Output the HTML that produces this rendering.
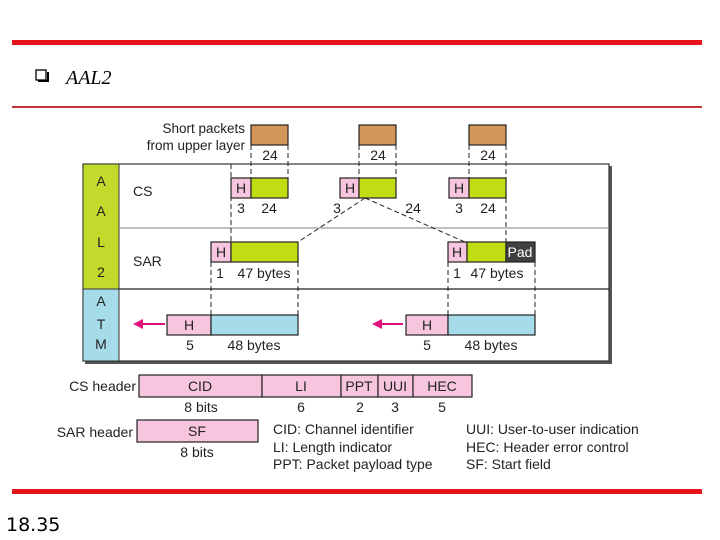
<!DOCTYPE html>
<html><head><meta charset="utf-8"><style>
html,body{margin:0;padding:0;background:#fff;}
svg{display:block;}
</style></head><body>
<svg width="720" height="540" viewBox="0 0 720 540" xmlns="http://www.w3.org/2000/svg" font-family="Liberation Sans, sans-serif">
<rect x="12" y="40" width="690" height="5" fill="#e8141b"/>
<rect x="12" y="106" width="690" height="2" fill="#c4313a"/>
<rect x="12" y="489" width="690" height="5" fill="#e8141b"/>
<rect x="36" y="70" width="10" height="10" fill="#fff" stroke="#000" stroke-width="1.3"/>
<path d="M38 81 H48 V72" stroke="#000" stroke-width="2" fill="none"/>
<text x="66" y="84" style="font-family:'Liberation Serif',serif;font-style:italic;font-size:20px">AAL2</text>
<text x="6" y="531" style="font-family:'DejaVu Sans',sans-serif;font-size:19px">18.35</text>

<rect x="85" y="166" width="527" height="198" fill="#555"/>
<rect x="83" y="164" width="526" height="197" fill="#fff" stroke="#333" stroke-width="1.2"/>
<rect x="83" y="164" width="36" height="125" fill="#c2da2c" stroke="#333" stroke-width="1"/>
<rect x="83" y="289" width="36" height="72" fill="#a6dbe9" stroke="#333" stroke-width="1"/>
<line x1="119" y1="228" x2="609" y2="228" stroke="#999" stroke-width="1.2"/>
<line x1="119" y1="289" x2="609" y2="289" stroke="#222" stroke-width="1.2"/>
<g font-size="14" text-anchor="middle" fill="#222">
<text x="101" y="186">A</text><text x="101" y="216">A</text><text x="101" y="247">L</text><text x="101" y="277">2</text>
<text x="101" y="306">A</text><text x="101" y="329">T</text><text x="101" y="349">M</text>
</g>
<text x="133" y="196" font-size="14" fill="#222">CS</text>
<text x="133" y="266" font-size="14" fill="#222">SAR</text>
<g font-size="13.5" text-anchor="end" fill="#222">
<text x="245" y="133">Short packets</text><text x="245" y="150">from upper layer</text>
</g>

<g stroke="#222" stroke-width="1" stroke-dasharray="5,3" fill="none">
<line x1="251" y1="145" x2="251" y2="178"/><line x1="288" y1="145" x2="288" y2="178"/>
<line x1="359" y1="145" x2="359" y2="178"/><line x1="396" y1="145" x2="396" y2="178"/>
<line x1="469" y1="145" x2="469" y2="178"/><line x1="506" y1="145" x2="506" y2="178"/>
<line x1="231" y1="164" x2="231" y2="242"/>
<line x1="506" y1="198" x2="506" y2="242"/>
<line x1="211" y1="262" x2="211" y2="315"/><line x1="298" y1="262" x2="298" y2="315"/>
<line x1="448" y1="262" x2="448" y2="315"/><line x1="535" y1="262" x2="535" y2="315"/>
<line x1="365" y1="198" x2="298" y2="242"/><line x1="365" y1="198" x2="465" y2="242"/>
</g>

<g fill="#d39558" stroke="#222" stroke-width="1.2">
<rect x="251" y="125" width="37" height="20"/>
<rect x="359" y="125" width="37" height="20"/>
<rect x="469" y="125" width="37" height="20"/>
</g>
<g stroke="#222" stroke-width="1.2">
<rect x="231" y="178" width="20" height="20" fill="#f7c6de"/><rect x="251" y="178" width="37" height="20" fill="#c2dc14"/>
<rect x="340" y="178" width="19" height="20" fill="#f7c6de"/><rect x="359" y="178" width="37" height="20" fill="#c2dc14"/>
<rect x="449" y="178" width="20" height="20" fill="#f7c6de"/><rect x="469" y="178" width="37" height="20" fill="#c2dc14"/>
<rect x="211" y="242" width="20" height="20" fill="#f7c6de"/><rect x="231" y="242" width="67" height="20" fill="#c2dc14"/>
<rect x="448" y="242" width="19" height="20" fill="#f7c6de"/><rect x="467" y="242" width="39" height="20" fill="#c2dc14"/>
<rect x="506" y="242" width="29" height="20" fill="#404040"/>
<rect x="167" y="315" width="44" height="20" fill="#f7c6de"/><rect x="211" y="315" width="87" height="20" fill="#a6dbe9"/>
<rect x="406" y="315" width="42" height="20" fill="#f7c6de"/><rect x="448" y="315" width="87" height="20" fill="#a6dbe9"/>
</g>
<g font-size="14" text-anchor="middle" fill="#222">
<text x="270" y="160">24</text><text x="378" y="160">24</text><text x="488" y="160">24</text>
<text x="241" y="193">H</text><text x="350" y="193">H</text><text x="459" y="193">H</text>
<text x="241" y="213">3</text><text x="269" y="213">24</text>
<text x="337" y="213">3</text><text x="413" y="213">24</text>
<text x="459" y="213">3</text><text x="488" y="213">24</text>
<text x="221" y="257">H</text><text x="457" y="257">H</text>
<text x="520" y="257" fill="#fff">Pad</text>
<text x="220" y="278">1</text><text x="264" y="278">47 bytes</text>
<text x="457" y="278">1</text><text x="497" y="278">47 bytes</text>
<text x="189" y="330">H</text><text x="427" y="330">H</text>
<text x="190" y="350">5</text><text x="254" y="350">48 bytes</text>
<text x="427" y="350">5</text><text x="491" y="350">48 bytes</text>
</g>
<g stroke="#e0137d" stroke-width="2" fill="#e0137d">
<line x1="140" y1="324" x2="165" y2="324"/><path d="M133 324 L143 319 L143 329 Z" stroke="none"/>
<line x1="379" y1="324" x2="403" y2="324"/><path d="M372 324 L382 319 L382 329 Z" stroke="none"/>
</g>

<g stroke="#222" stroke-width="1.2" fill="#f7c6de">
<rect x="139" y="375" width="123" height="22"/><rect x="262" y="375" width="79" height="22"/>
<rect x="341" y="375" width="37" height="22"/><rect x="378" y="375" width="35" height="22"/>
<rect x="413" y="375" width="59" height="22"/>
<rect x="137" y="420" width="121" height="22"/>
</g>
<g font-size="14" fill="#222">
<text x="136" y="391" text-anchor="end">CS header</text>
<text x="133" y="437" text-anchor="end">SAR header</text>
<g text-anchor="middle">
<text x="200" y="391">CID</text><text x="301" y="391">LI</text><text x="359" y="391">PPT</text>
<text x="395" y="391">UUI</text><text x="442" y="391">HEC</text>
<text x="201" y="412">8 bits</text><text x="301" y="412">6</text><text x="360" y="412">2</text>
<text x="395" y="412">3</text><text x="442" y="412">5</text>
<text x="197" y="436">SF</text><text x="197" y="457">8 bits</text>
</g>
<text x="273" y="434">CID: Channel identifier</text>
<text x="273" y="452">LI: Length indicator</text>
<text x="273" y="469">PPT: Packet payload type</text>
<text x="466" y="434">UUI: User-to-user indication</text>
<text x="466" y="452">HEC: Header error control</text>
<text x="466" y="469">SF: Start field</text>
</g>
</svg>
</body></html>
